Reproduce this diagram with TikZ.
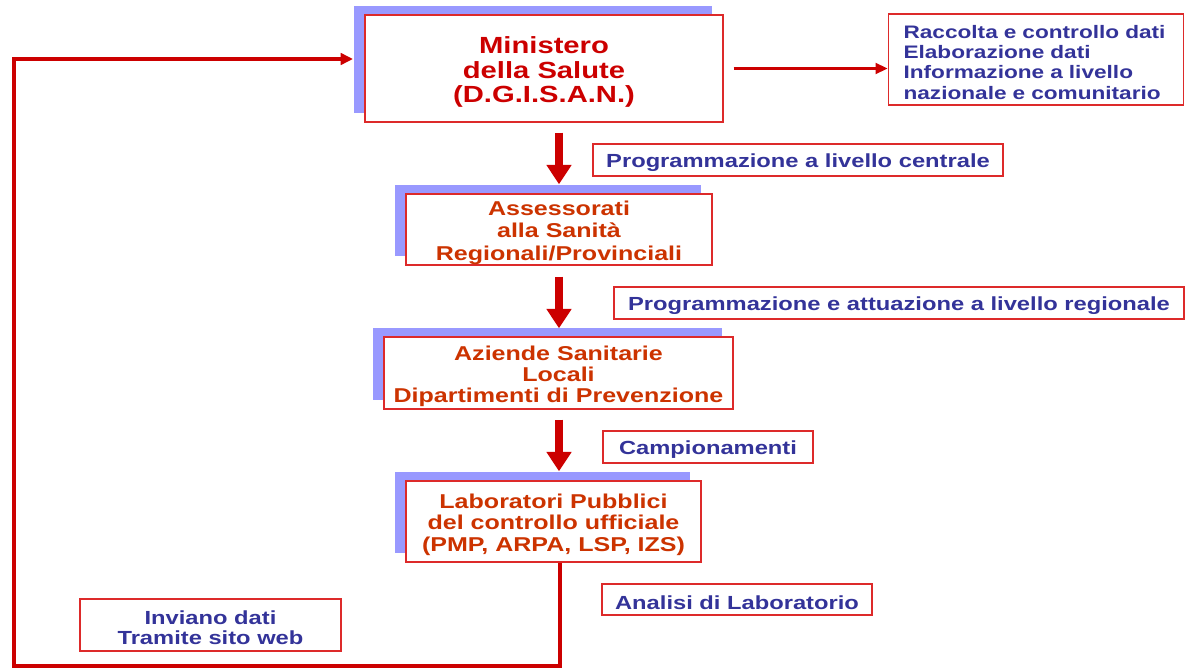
\documentclass[tikz,border=0pt]{standalone}
\usepackage{fontspec}
\setmainfont{Liberation Sans}[FakeStretch=1.25]
\usetikzlibrary{shadows,calc,arrows.meta}
\definecolor{salred}{HTML}{CC0000}
\definecolor{orgred}{HTML}{CC3300}
\definecolor{framered}{HTML}{DD2A2A}
\definecolor{noteblue}{HTML}{333399}
\definecolor{shadowblue}{HTML}{9999FF}
\newcommand{\dropline}{\rule{0pt}{1.05em}}

\begin{document}
\begin{tikzpicture}[x=0.02cm,y=-0.02cm,
  mainbox/.style={draw=framered,line width=0.8pt,fill=white,inner sep=0pt,align=center,
    text=orgred,font=\fontsize{11.4}{12.4}\selectfont\bfseries,
    general shadow={fill=shadowblue,shadow xshift=-6.2pt,shadow yshift=5.1pt}},
  notebox/.style={draw=framered,line width=0.8pt,inner sep=0pt,align=center,
    text=noteblue,font=\fontsize{10.8}{11.4}\selectfont\bfseries,minimum height=0.64cm,
    execute at begin node={\rule{0pt}{1.03em}}},
  bigarrow/.style={draw=salred,line width=4.5pt,-{Triangle[length=11pt,width=13.6pt]}},
  thinarrow/.style={draw=salred,line width=1.7pt,-{Triangle[length=7pt,width=6pt]}}]
\useasboundingbox (0,0) rectangle (1185,669);

% main chain
\node [mainbox,text=salred,font=\fontsize{13.3}{13.9}\selectfont\bfseries,
  minimum width=7.16cm,minimum height=2.14cm] (minist) at (544,68.5)
  {\dropline Ministero\\della Salute\\(D.G.I.S.A.N.)};
\node [mainbox,minimum width=6.12cm,minimum height=1.42cm,
  font=\fontsize{11.4}{13}\selectfont\bfseries] (assess) at (559,229.5)
  {\dropline Assessorati\\alla Sanità\\Regionali/Provinciali};
\node [mainbox,minimum width=6.98cm,minimum height=1.44cm,
  font=\fontsize{11.4}{12.2}\selectfont\bfseries] (aziende) at (558.5,373)
  {\dropline Aziende Sanitarie\\Locali\\Dipartimenti di Prevenzione};
\node [mainbox,minimum width=5.9cm,minimum height=1.62cm] (lab) at (553.5,521.5)
  {\dropline Laboratori Pubblici\\del controllo ufficiale\\(PMP, ARPA, LSP, IZS)};

% side notes
\node [notebox,align=left,text width=5.3cm,inner xsep=0.3cm,minimum height=1.82cm,
  font=\fontsize{10.3}{11.5}\selectfont\bfseries] (info) at (1036,59.5)
  {Raccolta e controllo dati\\Elaborazione dati\\Informazione a livello\\nazionale e comunitario};
\node [notebox,minimum width=8.2cm] (progc) at (798,160) {Programmazione a livello centrale};
\node [notebox,minimum width=11.4cm] (progr) at (899,303) {Programmazione e attuazione a livello regionale};
\node [notebox,minimum width=4.2cm] (camp) at (708,447) {Campionamenti};
\node [notebox,minimum width=5.4cm,minimum height=0.62cm] (anal) at (737,599.5) {Analisi di Laboratorio};
\node [notebox,minimum width=5.22cm,minimum height=1.04cm,font=\fontsize{10.8}{11.3}\selectfont\bfseries] (invia) at (210.5,625)
  {\dropline Inviano dati\\Tramite sito web};

% arrows
\draw [thinarrow] ($(minist.east)+(10,0)$) -- (info.west |- minist.east);
\draw [bigarrow] ($(minist.south -| assess.north)+(0,10)$) -- ($(assess.north)+(0,-9)$);
\draw [bigarrow] ($(assess.south)+(0,11)$) -- ($(aziende.north -| assess.south)+(0,-8)$);
\draw [bigarrow] ($(aziende.south -| assess.south)+(0,10)$) -- ($(lab.north -| assess.south)+(0,-9)$);

% feedback loop
\coordinate (loopbl) at (14,666);
\coordinate (loopend) at (353,59);
\draw [draw=salred,line width=2.6pt,-{Triangle[length=7pt,width=6.5pt]}]
  ($(lab.south)+(6.5,0)$) |- (loopbl) |- (loopend);
\end{tikzpicture}
\end{document}
